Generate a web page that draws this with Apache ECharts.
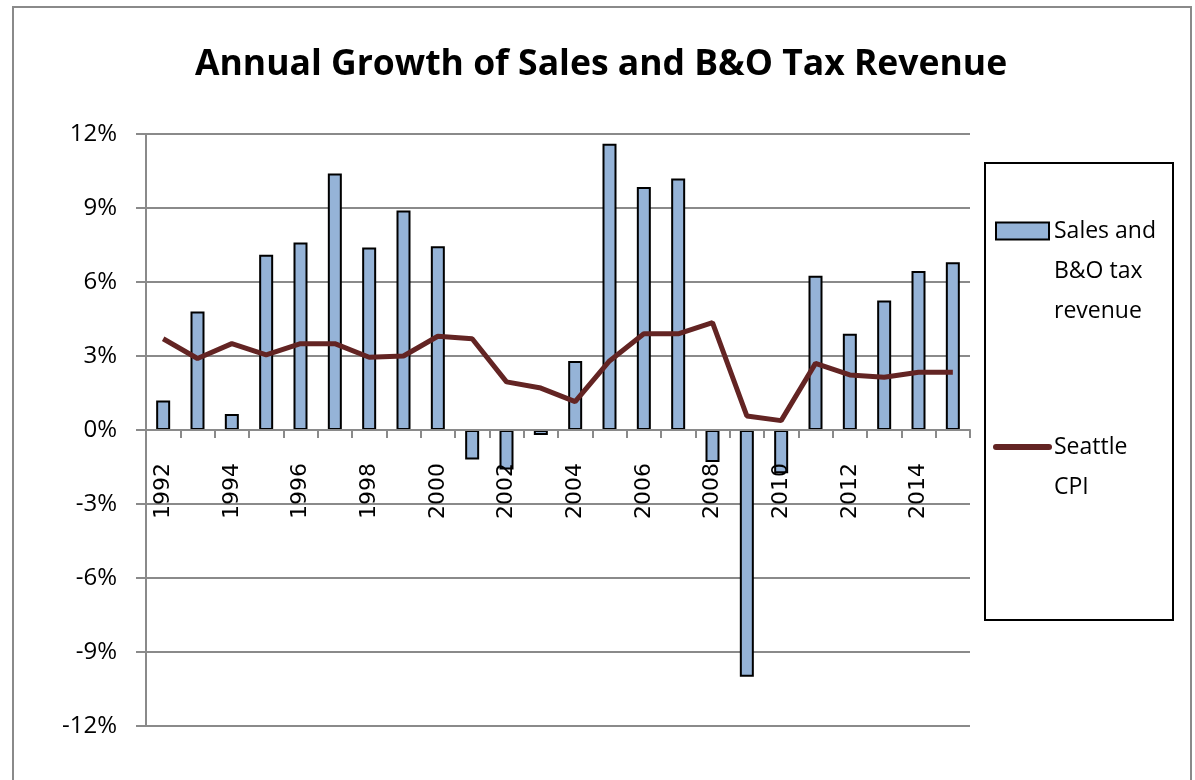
<!DOCTYPE html>
<html>
<head>
<meta charset="utf-8">
<script src="https://cdn.jsdelivr.net/npm/echarts@6/dist/echarts.min.js"></script>
<style>
  html, body { margin: 0; padding: 0; background: #fff; }
  #chart { width: 1195px; height: 780px; }
</style>
</head>
<body>
<div id="chart"></div>
<script>
// data
const years = ["1992","1993","1994","1995","1996","1997","1998","1999","2000","2001","2002","2003",
               "2004","2005","2006","2007","2008","2009","2010","2011","2012","2013","2014","2015"];
const salesTax = [1.2, 4.8, 0.65, 7.1, 7.6, 10.4, 7.4, 8.9, 7.45, -1.2, -1.6, -0.2,
                  2.8, 11.6, 9.85, 10.2, -1.3, -10.0, -1.75, 6.25, 3.9, 5.25, 6.45, 6.8];
const seattleCpi = [3.7, 2.9, 3.5, 3.05, 3.5, 3.5, 2.95, 3.0, 3.8, 3.7, 1.95, 1.7,
                    1.15, 2.8, 3.9, 3.9, 4.35, 0.57, 0.38, 2.7, 2.23, 2.14, 2.34, 2.34];
const seriesNames = ["Sales and B&O tax revenue", "Seattle CPI"];
// leading blank lines keep the icon level with the first text line
const legendLabels = ["\n\nSales and\nB&O tax\nrevenue", "\nSeattle\nCPI"];

let mychart = echarts.init(document.getElementById("chart"));

mychart.setOption({
  animation: false,
  title: {
    text: "Annual Growth of Sales and B&O Tax Revenue",
    left: 190,
    top: 42,
    textStyle: {
      fontFamily: "Open Sans",
      fontWeight: "bold",
      fontSize: 35.5,
      color: "#000"
    }
  },
  grid: {
    left: 146,
    right: 225,
    top: 134,
    bottom: 54,
    containLabel: false,
    outerBoundsMode: "none"
  },
  legend: {
    orient: "vertical",
    left: 993,
    top: 131,
    padding: 0,
    itemGap: 56,
    itemWidth: 53,
    itemHeight: 17,
    formatter: (name) => legendLabels[seriesNames.indexOf(name)],
    textStyle: {
      fontFamily: "Open Sans",
      fontSize: 23,
      lineHeight: 40,
      color: "#000"
    },
    data: [
      { name: seriesNames[0], icon: "rect" },
      {
        name: seriesNames[1],
        itemStyle: { opacity: 0 },
        lineStyle: { width: 6, cap: "round", color: "#632423" }
      }
    ]
  },
  graphic: [
    {
      type: "rect",
      shape: { x: 13, y: 7, width: 1178, height: 800 },
      style: { fill: "none", stroke: "#8a8a8a", lineWidth: 2 }
    },
    {
      type: "rect",
      shape: { x: 985, y: 163, width: 188, height: 457 },
      style: { fill: "none", stroke: "#000", lineWidth: 2 }
    }
  ],
  xAxis: {
    type: "category",
    data: years,
    z: 5,
    position: "bottom",
    offset: -296,
    axisLine: {
      onZero: false,
      lineStyle: { color: "#8a8a8a", width: 2 }
    },
    axisTick: {
      show: true,
      interval: 0,
      length: 8,
      lineStyle: { color: "#8a8a8a", width: 2 }
    },
    axisLabel: {
      interval: 1,
      rotate: 90,
      margin: 33,
      fontFamily: "DejaVu Sans",
      fontSize: 22,
      color: "#000"
    }
  },
  yAxis: {
    type: "value",
    min: -12,
    max: 12,
    interval: 3,
    axisLine: {
      show: true,
      lineStyle: { color: "#8a8a8a", width: 2 }
    },
    axisTick: {
      show: true,
      length: 10,
      lineStyle: { color: "#8a8a8a", width: 2 }
    },
    splitLine: {
      lineStyle: { color: "#8a8a8a", width: 2 }
    },
    axisLabel: {
      margin: 29,
      formatter: "{value}%",
      fontFamily: "Open Sans",
      fontSize: 24,
      color: "#000"
    }
  },
  series: [
    {
      name: seriesNames[0],
      type: "bar",
      data: salesTax,
      barWidth: 14,
      itemStyle: {
        color: "#95b3d7",
        borderColor: "#000",
        borderWidth: 2
      }
    },
    {
      name: seriesNames[1],
      type: "line",
      data: seattleCpi,
      showSymbol: false,
      symbol: "none",
      z: 4,
      lineStyle: { color: "#632423", width: 5 },
      itemStyle: { color: "#632423" }
    }
  ]
});
</script>
</body>
</html>
